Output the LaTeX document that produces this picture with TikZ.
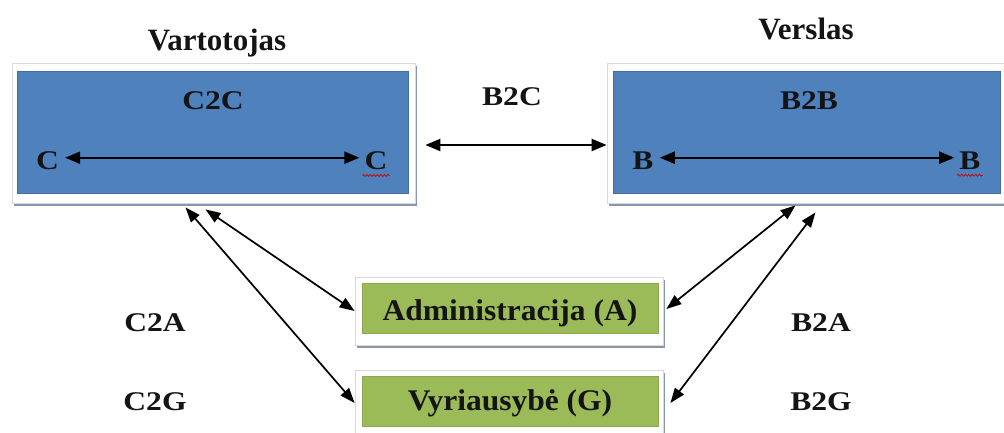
\documentclass[tikz,border=0pt]{standalone}
\usepackage{fontspec}
\setmainfont{Liberation Serif}
\usetikzlibrary{arrows.meta,decorations.pathmorphing}
\definecolor{officeblue}{HTML}{4F81BD}
\definecolor{officegreen}{HTML}{9BBB59}
\definecolor{shadowgrey}{HTML}{8A97AA}
\definecolor{framegrey}{HTML}{DADADA}
\definecolor{inktext}{HTML}{141414}
\begin{document}
\begin{tikzpicture}[x=1pt,y=-1pt,
  framebox/.style={draw=framegrey, fill=white, line width=0.8pt, inner sep=0pt,
    preaction={fill=shadowgrey, transform canvas={shift={(1.5pt,-3pt)}}}},
  bluebox/.style={draw=officeblue!85!black, fill=officeblue, line width=0.5pt, inner sep=0pt},
  greenbox/.style={draw=officegreen!90!black, fill=officegreen, line width=0.5pt, inner sep=0pt},
  title/.style={font=\fontsize{31}{31}\selectfont\bfseries, text=inktext, inner sep=0pt, anchor=base},
  lbl/.style={font=\fontsize{27}{27}\selectfont\bfseries, text=inktext, inner sep=0pt, anchor=base, xscale=1.17},
  gtxt/.style={font=\fontsize{30}{30}\selectfont\bfseries, text=inktext, inner sep=0pt, anchor=base, xscale=1.05},
  hbar/.style={line width=2.2pt, {Triangle[length=15pt,width=12pt]}-{Triangle[length=15pt,width=12pt]}},
  link/.style={line width=1.7pt, {Triangle[length=15pt,width=11pt]}-{Triangle[length=15pt,width=11pt]}},
  spell/.style={red!80!black, line width=0.7pt, decorate, decoration={snake, amplitude=1pt, segment length=3.5pt}}
]
\useasboundingbox (0,0) rectangle (1004,433);

% consumer and business panels
\node[framebox, minimum width=403pt, minimum height=140pt] (lf) at (213.5,133) {};
\node[bluebox, minimum width=391pt, minimum height=122pt] (lb) at (212.5,132) {};
\node[framebox, minimum width=397pt, minimum height=140pt] (rf) at (805.5,133) {};
\node[bluebox, minimum width=387pt, minimum height=122pt] (rb) at (806.5,132) {};

% government boxes
\node[framebox, minimum width=308pt, minimum height=68pt] (af) at (509,311) {};
\node[greenbox, minimum width=296pt, minimum height=50pt] (ag) at (510,308) {};
\node[framebox, minimum width=308pt, minimum height=66pt] (vf) at (509,403) {};
\node[greenbox, minimum width=296pt, minimum height=50pt] (vg) at (510,401) {};

% headings
\node[title] (tv) at (217,51) {Vartotojas};
\node[title] (tb) at (806,40) {Verslas};

% panel texts
\node[lbl] (c2c) at (213,110) {C2C};
\node[lbl] (b2b) at (809,110) {B2B};
\node[lbl] (b2c) at (512,106) {B2C};
\node[lbl] (cL) at (47.5,169) {C};
\node[lbl] (cR) at (376,169) {C};
\node[lbl] (bL) at (643,169) {B};
\node[lbl] (bR) at (970,169) {B};

% side labels
\node[lbl] (c2a) at (155,331) {C2A};
\node[lbl] (c2g) at (155,410) {C2G};
\node[lbl] (b2a) at (821,331) {B2A};
\node[lbl] (b2g) at (821,410) {B2G};

% box texts
\node[gtxt] (adm) at (510,320) {Administracija (A)};
\node[gtxt] (vyr) at (510,410) {Vyriausybė (G)};

% spell-check marks
\draw[spell] ([xshift=-2pt,yshift=-6pt]cR.south west) -- ([xshift=2pt,yshift=-6pt]cR.south east);
\draw[spell] ([xshift=-2pt,yshift=-6pt]bR.south west) -- ([xshift=2pt,yshift=-6pt]bR.south east);

% arrows inside panels
\draw[hbar] ([xshift=6pt,yshift=2.5pt]cL.east) -- ([xshift=-5pt,yshift=2.5pt]cR.west);
\draw[hbar] ([xshift=6pt,yshift=2.5pt]bL.east) -- ([xshift=-5pt,yshift=2.5pt]bR.west);

% B2C arrow between panels
\draw[hbar] ([xshift=10pt,yshift=-12pt]lf.east) -- ([yshift=-12pt]rf.west);

% links to administration and government
\draw[link] ([xshift=-28pt,yshift=-4pt]lf.south) -- (vf.west);
\draw[link] ([xshift=-8pt,yshift=-6pt]lf.south) -- (af.west);
\draw[link] ([xshift=-10pt,yshift=-2pt]rf.south) -- ([xshift=3pt,yshift=2pt]af.east);
\draw[link] ([xshift=10pt,yshift=-9pt]rf.south) -- ([xshift=7pt]vf.east);
\end{tikzpicture}
\end{document}
